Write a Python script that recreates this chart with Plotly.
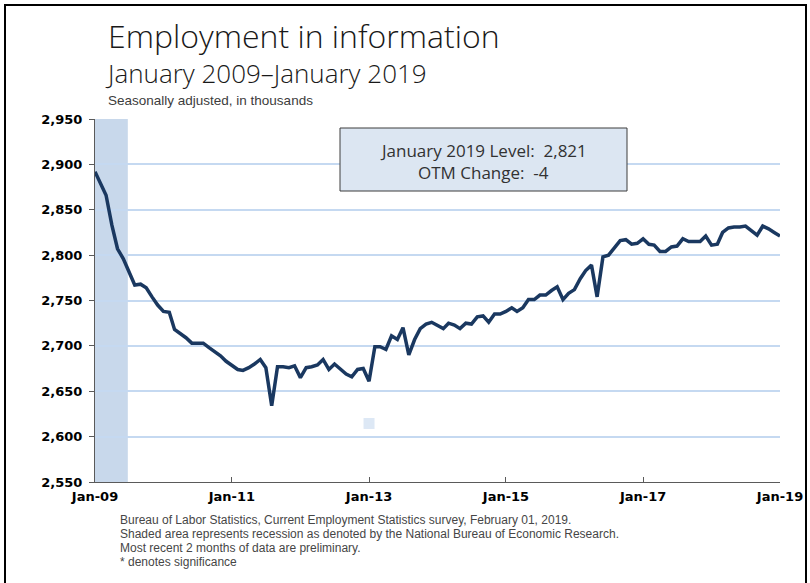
import pandas as pd
import plotly.graph_objects as go

# ---- data ----
values = [
    2892, 2879, 2866, 2833, 2807, 2796, 2781, 2767, 2768, 2764, 2754, 2745,
    2738, 2737, 2718, 2714, 2709, 2703, 2703, 2703, 2698, 2694, 2689, 2683,
    2678, 2674, 2673, 2676, 2680, 2685, 2676, 2634, 2677, 2677, 2676, 2678,
    2665, 2676, 2677, 2679, 2685, 2674, 2680, 2675, 2669, 2666, 2674, 2675,
    2661, 2699, 2699, 2696, 2711, 2707, 2720, 2690, 2707, 2719, 2724, 2726,
    2722, 2719, 2725, 2723, 2719, 2725, 2724, 2732, 2733, 2726, 2735, 2735,
    2738, 2742, 2738, 2742, 2751, 2751, 2756, 2756, 2761, 2765, 2751, 2758,
    2762, 2774, 2783, 2789, 2754, 2798, 2800, 2808, 2816, 2817, 2812, 2813,
    2818, 2812, 2811, 2804, 2804, 2809, 2810, 2818, 2815, 2815, 2815, 2821,
    2811, 2812, 2825, 2830, 2831, 2831, 2832, 2827, 2822, 2832, 2829, 2825,
    2821,
]
months = pd.date_range("2009-01-01", periods=len(values), freq="MS")

tick_dates = ["2009-01-01", "2011-01-01", "2013-01-01", "2015-01-01", "2017-01-01", "2019-01-01"]
tick_labels = ["Jan-09", "Jan-11", "Jan-13", "Jan-15", "Jan-17", "Jan-19"]
y_ticks = [2550, 2600, 2650, 2700, 2750, 2800, 2850, 2900, 2950]
y_tick_labels = ["2,550", "2,600", "2,650", "2,700", "2,750", "2,800", "2,850", "2,900", "2,950"]

recession_start = "2009-01-01"
recession_end = "2009-06-25"

marker_date = ["2013-01-01"]
marker_value = [2614.5]

title = "Employment in information"
subtitle = "January 2009\u2013January 2019"
unit_note = "Seasonally adjusted, in thousands"
box_lines = ["January 2019 Level:  2,821", "OTM Change:  -4"]
notes = [
    "Bureau of Labor Statistics, Current Employment Statistics survey, February 01, 2019.",
    "Shaded area represents recession as denoted by the National Bureau of Economic Research.",
    "Most recent 2 months of data are preliminary.",
    "* denotes significance",
]

# ---- layout geometry (pixels) ----
W, H = 810, 583
L, R, T, B = 95, 780, 119, 482
pw, ph = R - L, B - T


def px(x):
    return (x - L) / pw


def py(y):
    return (B - y) / ph


fig = go.Figure()

fig.add_shape(type="rect", xref="x", yref="paper", x0=recession_start, x1=recession_end,
              y0=0, y1=1, fillcolor="rgb(200,216,235)", line_width=0, layer="below")

fig.add_trace(go.Scatter(x=marker_date, y=marker_value, mode="markers",
                         marker=dict(symbol="square", size=11, color="rgb(221,232,245)"),
                         hoverinfo="skip", showlegend=False))

fig.add_trace(go.Scatter(x=months, y=values, mode="lines",
                         line=dict(color="rgb(26,56,96)", width=3.5),
                         showlegend=False))

# frame
fig.add_shape(type="rect", xref="paper", yref="paper",
              x0=px(5), x1=px(806), y0=py(640), y1=py(5),
              line=dict(color="black", width=2), fillcolor="rgba(0,0,0,0)")

# box
fig.add_shape(type="rect", xref="paper", yref="paper",
              x0=px(340), x1=px(627), y0=py(191), y1=py(128),
              line=dict(color="rgb(60,60,60)", width=1), fillcolor="rgb(220,230,242)")
for i, t in enumerate(box_lines):
    fig.add_annotation(x=px(483.5), y=py(150 + 22 * i), xref="paper", yref="paper",
                       text=t, showarrow=False, xanchor="center", yanchor="middle",
                       font=dict(family="Open Sans", size=17, color="rgb(50,50,50)"))

# titles (title + subtitle as one two-line text block)
fig.add_annotation(x=px(104), y=py(53), xref="paper", yref="paper",
                   text=f"<span style='font-size:32px'>{title}</span><br>"
                        f"<span style='font-size:26px'>{subtitle}</span>",
                   showarrow=False, xanchor="left", yanchor="middle", align="left",
                   borderpad=0,
                   font=dict(family="Open Sans", size=27, color="rgb(25,25,25)", weight=300))
fig.add_annotation(x=px(107), y=py(100.5), xref="paper", yref="paper", text=unit_note,
                   showarrow=False, xanchor="left", yanchor="middle", borderpad=0,
                   font=dict(family="Liberation Sans", size=13.5, color="rgb(60,60,60)"))

for i, t in enumerate(notes):
    fig.add_annotation(x=px(118), y=py(520 + 14 * i), xref="paper", yref="paper", text=t,
                       showarrow=False, xanchor="left", yanchor="middle",
                       font=dict(family="Liberation Sans", size=12, color="rgb(70,70,70)"))

fig.update_layout(
    width=W, height=H, autosize=False,
    margin=dict(l=L, r=W - R, t=T, b=H - B, pad=0, autoexpand=False),
    plot_bgcolor="white", paper_bgcolor="white",
    showlegend=False,
)
fig.update_xaxes(
    type="date", range=["2009-01-01", "2019-01-01"], automargin=False,
    tickvals=tick_dates, ticktext=tick_labels,
    ticks="inside", ticklen=5, tickcolor="rgb(90,90,90)",
    showline=True, linecolor="rgb(90,90,90)", linewidth=1,
    showgrid=False, zeroline=False, ticklabelstandoff=2,
    tickfont=dict(family="DejaVu Sans", size=13, color="black", weight="bold"),
)
fig.update_yaxes(
    range=[2550, 2950], tickvals=y_ticks, ticktext=y_tick_labels, automargin=False,
    ticks="outside", ticklen=5, tickcolor="rgb(90,90,90)",
    showline=True, linecolor="rgb(90,90,90)", linewidth=1,
    showgrid=True, gridcolor="rgb(197,217,241)", gridwidth=1.5,
    zeroline=False, ticklabelstandoff=4,
    tickfont=dict(family="DejaVu Sans", size=13, color="black", weight="bold"),
)

fig.write_html("out.html",
               config={"displayModeBar": False, "responsive": False},
               post_script="document.body.style.margin='0';document.body.style.overflow='hidden';")
